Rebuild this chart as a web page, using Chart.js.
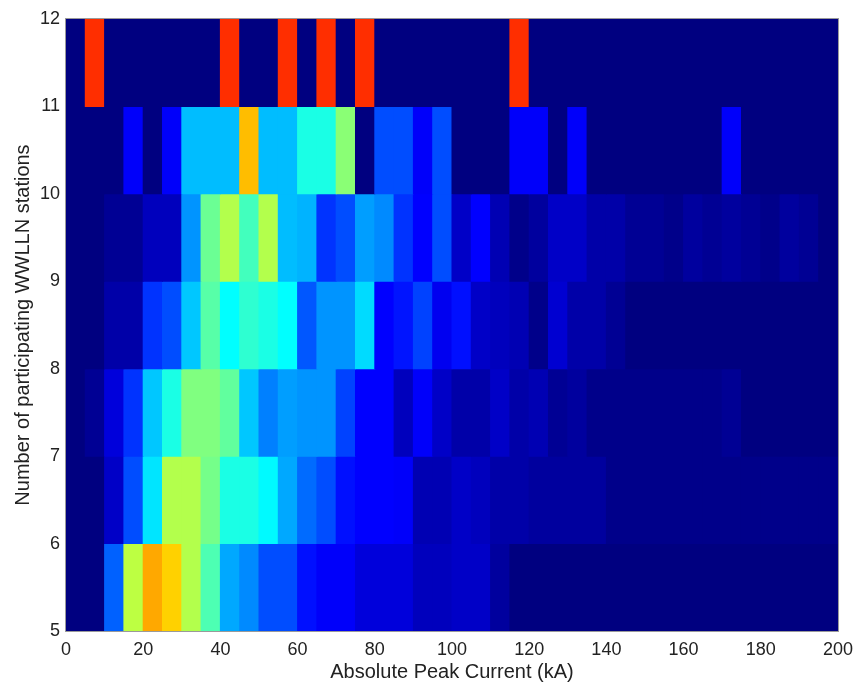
<!DOCTYPE html>
<html>
<head>
<meta charset="utf-8">
<script src="https://cdn.jsdelivr.net/npm/chart.js@4.4.1/dist/chart.umd.min.js"></script>
<style>
  html, body { margin: 0; background: #fff; }
  #wrap { width: 861px; height: 689px; }
</style>
</head>
<body>
<div id="wrap"><canvas id="chart"></canvas></div>
<script>
// 5 kA bins, left edge of each
const binStarts = [0, 5, 10, 15, 20, 25, 30, 35, 40, 45, 50, 55, 60, 65, 70, 75, 80, 85, 90, 95,
  100, 105, 110, 115, 120, 125, 130, 135, 140, 145, 150, 155, 160, 165, 170, 175, 180, 185, 190, 195];
const binWidth = 5;
const stationRows = [5, 6, 7, 8, 9, 10, 11];

// normalised density per row (0..1 on the jet colour scale)
const row5 = [0, 0, 0.22, 0.56, 0.71, 0.67, 0.55, 0.45, 0.29, 0.26, 0.2, 0.2, 0.14, 0.12, 0.12, 0.09, 0.09, 0.09, 0.06, 0.06,
  0.07, 0.07, 0.03, 0, 0, 0, 0, 0, 0, 0, 0, 0, 0, 0, 0, 0, 0, 0, 0, 0];
const row6 = [0, 0, 0.07, 0.2, 0.35, 0.55, 0.55, 0.49, 0.40, 0.40, 0.37, 0.29, 0.23, 0.2, 0.14, 0.125, 0.125, 0.12, 0.05, 0.05,
  0.07, 0.06, 0.04, 0.04, 0.03, 0.03, 0.03, 0.03, 0.01, 0.01, 0.01, 0.01, 0.01, 0.01, 0.01, 0.01, 0.01, 0.01, 0.01, 0.01];
const row7 = [0, 0.02, 0.09, 0.175, 0.32, 0.40, 0.50, 0.50, 0.47, 0.32, 0.25, 0.28, 0.27, 0.27, 0.19, 0.125, 0.125, 0.06, 0.12, 0.07,
  0.04, 0.04, 0.07, 0.04, 0.05, 0.02, 0.03, 0.01, 0.01, 0.01, 0.01, 0.01, 0.01, 0.01, 0.02, 0, 0, 0, 0, 0];
const row8 = [0, 0, 0.04, 0.04, 0.175, 0.2, 0.32, 0.46, 0.375, 0.42, 0.40, 0.375, 0.21, 0.27, 0.27, 0.34, 0.125, 0.145, 0.19, 0.11,
  0.14, 0.07, 0.06, 0.05, 0.01, 0.08, 0.04, 0.04, 0.02, 0, 0, 0, 0, 0, 0, 0, 0, 0, 0, 0];
const row9 = [0, 0, 0.02, 0.02, 0.06, 0.06, 0.27, 0.48, 0.55, 0.44, 0.55, 0.31, 0.30, 0.175, 0.2, 0.28, 0.26, 0.175, 0.125, 0.2,
  0.07, 0.125, 0.05, 0.01, 0.03, 0.07, 0.07, 0.04, 0.04, 0.02, 0.02, 0.01, 0.03, 0.02, 0.03, 0.02, 0.01, 0.03, 0.02, 0];
const row10 = [0, 0, 0, 0.12, 0, 0.12, 0.31, 0.31, 0.31, 0.69, 0.31, 0.31, 0.40, 0.40, 0.51, 0, 0.2, 0.2, 0.12, 0.2,
  0, 0, 0, 0.12, 0.12, 0, 0.12, 0, 0, 0, 0, 0, 0, 0, 0.12, 0, 0, 0, 0, 0];
const row11 = [0, 0.83, 0, 0, 0, 0, 0, 0, 0.83, 0, 0, 0.83, 0, 0.83, 0, 0.83, 0, 0, 0, 0,
  0, 0, 0, 0.83, 0, 0, 0, 0, 0, 0, 0, 0, 0, 0, 0, 0, 0, 0, 0, 0];

const rows = [row5, row6, row7, row8, row9, row10, row11];

const xTicks = [0, 20, 40, 60, 80, 100, 120, 140, 160, 180, 200];
const yTicks = [5, 6, 7, 8, 9, 10, 11, 12];

// matlab-like jet colormap
function jet(v) {
  const clamp = t => Math.max(0, Math.min(1, t));
  const r = clamp(Math.min(4 * v - 1.5, -4 * v + 4.5));
  const g = clamp(Math.min(4 * v - 0.5, -4 * v + 3.5));
  const b = clamp(Math.min(4 * v + 0.5, -4 * v + 2.5));
  return `rgb(${Math.round(r * 255)}, ${Math.round(g * 255)}, ${Math.round(b * 255)})`;
}

const cells = [];
const colors = [];
stationRows.forEach((st, r) => {
  rows[r].forEach((v, i) => {
    cells.push({ x: [binStarts[i], binStarts[i] + binWidth], y: st + 0.5 });
    colors.push(jet(v));
  });
});

const frame = {
  id: 'frame',
  beforeDatasetsDraw(chart) {
    const { ctx, chartArea: a } = chart;
    ctx.save();
    ctx.fillStyle = jet(0);
    ctx.fillRect(a.left, a.top, a.right - a.left, a.bottom - a.top);
    ctx.restore();
  },
  afterDraw(chart) {
    const { ctx, chartArea: a } = chart;
    ctx.save();
    ctx.strokeStyle = '#9a9a9a';
    ctx.lineWidth = 1;
    ctx.strokeRect(a.left - 0.5, a.top - 0.5, a.right - a.left + 1, a.bottom - a.top + 1);
    ctx.restore();
  }
};

const font = { family: "'Liberation Sans', Arial, sans-serif" };

new Chart(document.getElementById('chart'), {
  type: 'bar',
  data: {
    datasets: [{
      data: cells,
      backgroundColor: colors,
      borderWidth: 0,
      barPercentage: 1,
      categoryPercentage: 1,
      inflateAmount: 0.5
    }]
  },
  options: {
    indexAxis: 'y',
    responsive: true,
    maintainAspectRatio: false,
    animation: false,
    layout: { padding: { top: 19, right: 20, left: 0, bottom: 0 } },
    plugins: {
      legend: { display: false },
      tooltip: { enabled: false }
    },
    scales: {
      x: {
        type: 'linear',
        min: 0,
        max: 200,
        offset: false,
        afterBuildTicks: s => { s.ticks = xTicks.map(v => ({ value: v })); },
        afterFit: s => { s.height = 58; },
        grid: { display: false, drawTicks: false, offset: false },
        border: { display: false },
        ticks: { color: '#222', padding: 8, maxRotation: 0, font: { ...font, size: 18 } },
        title: {
          display: true,
          text: 'Absolute Peak Current (kA)',
          color: '#222',
          padding: { top: 0, bottom: 5 },
          font: { ...font, size: 20 }
        }
      },
      y: {
        type: 'linear',
        min: 5,
        max: 12,
        offset: false,
        afterBuildTicks: s => { s.ticks = yTicks.map(v => ({ value: v })); },
        afterFit: s => { s.width = 66; },
        grid: { display: false, drawTicks: false, offset: false },
        border: { display: false },
        ticks: { color: '#222', padding: 6, font: { ...font, size: 18 } },
        title: {
          display: true,
          text: 'Number of participating WWLLN stations',
          color: '#222',
          padding: { top: 11, bottom: 0 },
          font: { ...font, size: 20 }
        }
      }
    }
  },
  plugins: [frame]
});
</script>
</body>
</html>
